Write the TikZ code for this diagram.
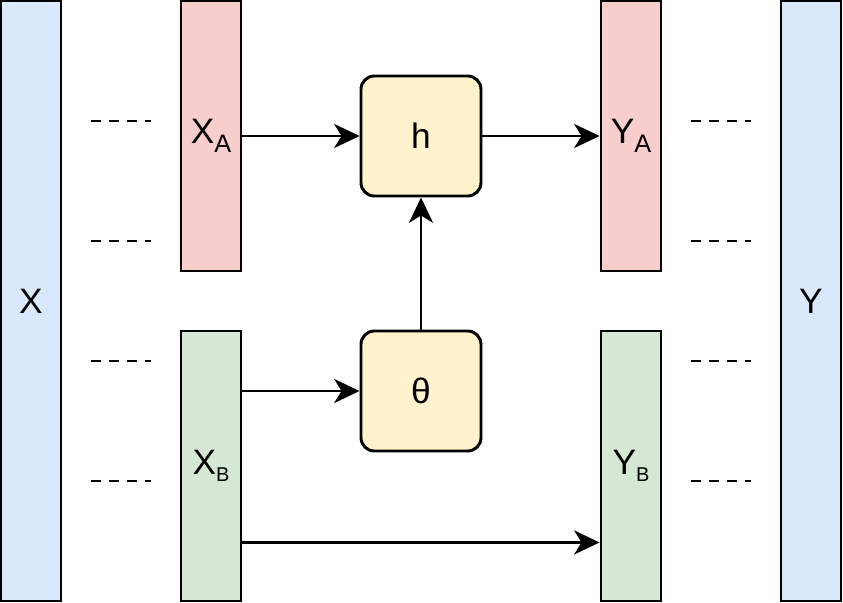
\documentclass[tikz,border=0pt]{standalone}
\usepackage{fontspec}
\setmainfont{Liberation Sans}
\usetikzlibrary{arrows.meta,calc}
\definecolor{cblue}{HTML}{DAE8FC}
\definecolor{cred}{HTML}{F8CECC}
\definecolor{cgreen}{HTML}{D5E8D4}
\definecolor{cyellow}{HTML}{FFF2CC}
\newcommand{\subA}[1]{{\fontsize{19}{19}\selectfont\raisebox{-7pt}{#1}}}
\newcommand{\subB}[1]{{\fontsize{15}{15}\selectfont\raisebox{-5pt}{#1}}}
\begin{document}
\begin{tikzpicture}[x=0.75pt,y=-0.75pt,
  bar/.style={draw=black, line width=2.2pt, minimum width=45pt, inner sep=0pt,
    font=\fontsize{26.5}{30}\selectfont},
  fbox/.style={draw=black, line width=2.2pt, fill=cyellow, minimum width=90pt,
    minimum height=90pt, rounded corners=10pt, inner sep=0pt,
    font=\fontsize{26.5}{30}\selectfont},
  arr/.style={line width=2.2pt, -{Stealth[length=19pt,width=18pt,inset=5.5pt]}},
  dashline/.style={line width=2.2pt, dash pattern=on 7.2pt off 6.3pt}]
\useasboundingbox (0,0) rectangle (843,603);
\fill[white] (0,0) rectangle (843,603);
% bars
\node[bar, fill=cblue, minimum height=450pt] (X) at (31,301) {X};
\node[bar, fill=cred, minimum height=202.5pt] (XA) at (211,136) {X\subA{A}};
\node[bar, fill=cgreen, minimum height=202.5pt] (XB) at (211,466) {X\subB{B}};
\node[bar, fill=cred, minimum height=202.5pt] (YA) at (631,136) {Y\subA{A}};
\node[bar, fill=cgreen, minimum height=202.5pt] (YB) at (631,466) {Y\subB{B}};
\node[bar, fill=cblue, minimum height=450pt] (Y) at (811,301) {Y};
% function boxes
\node[fbox] (h) at (421,136) {h};
\node[fbox] (th) at (421,391) {θ};
% dashes
\foreach \yy in {121,241,361,481}{
  \draw[dashline] (91,\yy) -- (151,\yy);
  \draw[dashline] (691,\yy) -- (751,\yy);
}
% arrows
\draw[arr] (XA.east |- h.west) -- (h.west);
\draw[arr] (h.east) -- (h.east -| YA.west);
\draw[arr] (th.north) -- (h.south);
\draw[arr] (XB.east |- th.west) -- (th.west);
\coordinate (c1) at ($(XB.south east)+(0,-60)$);
\draw[arr] (c1) -- (c1 -| YB.west);
\end{tikzpicture}
\end{document}
